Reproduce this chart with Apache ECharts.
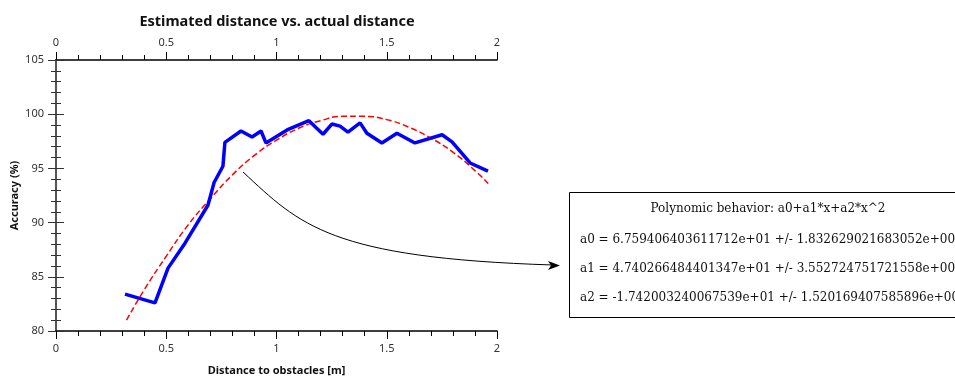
<!DOCTYPE html>
<html>
<head>
<meta charset="utf-8">
<script src="https://cdn.jsdelivr.net/npm/echarts@6/dist/echarts.min.js"></script>
<style>
  html, body { margin: 0; padding: 0; background: #fff; }
  #chart { width: 955px; height: 377px; }
</style>
</head>
<body>
<div id="chart"></div>
<script>
// measured accuracy vs distance (blue line)
const distance = [0.313, 0.449, 0.508, 0.585, 0.689, 0.717, 0.757, 0.766, 0.839, 0.889, 0.930, 0.952,
  1.048, 1.147, 1.211, 1.252, 1.288, 1.324, 1.379, 1.410, 1.478, 1.546, 1.628, 1.751, 1.796, 1.878, 1.959]
const accuracy = [83.4, 82.6, 85.8, 88.1, 91.6, 93.7, 95.2, 97.4, 98.45, 97.9, 98.45, 97.35,
  98.55, 99.4, 98.15, 99.1, 98.9, 98.35, 99.2, 98.25, 97.35, 98.25, 97.35, 98.1, 97.45, 95.5, 94.75]

// fitted curve (red dashed)
const fitX = [0.32, 0.4, 0.5, 0.6, 0.7, 0.8, 0.9, 1.0, 1.1, 1.2, 1.3, 1.4, 1.5, 1.6, 1.7, 1.8, 1.9, 1.96]
const fitY = [81.0, 83.8, 86.9, 89.8, 92.2, 94.4, 96.2, 97.6, 98.7, 99.4, 99.8, 99.8, 99.5, 98.8, 97.8, 96.5, 94.8, 93.6]

const boxLines = [
  'Polynomic behavior: a0+a1*x+a2*x^2',
  'a0 = 6.759406403611712e+01 +/- 1.832629021683052e+00',
  'a1 = 4.740266484401347e+01 +/- 3.552724751721558e+00',
  'a2 = -1.742003240067539e+01 +/- 1.520169407585896e+00'
]

const chart = echarts.init(document.getElementById('chart'))

const tickLabel = { color: '#333', fontSize: 11, fontFamily: 'Noto Sans' }
const nameStyle = { fontSize: 11, fontWeight: 'bold', color: '#111', fontFamily: 'Noto Sans' }

const xAxisBase = {
  type: 'value',
  min: 0,
  max: 2,
  interval: 0.5,
  axisLine: { show: true, lineStyle: { color: '#000', width: 1.5 } },
  axisTick: { show: true, inside: false, length: 8, lineStyle: { color: '#000' } },
  minorTick: { show: true, splitNumber: 5, length: 5, lineStyle: { color: '#000' } },
  splitLine: { show: false },
  axisLabel: { ...tickLabel, margin: 12 }
}

const yAxisBase = {
  type: 'value',
  min: 80,
  max: 105,
  interval: 5,
  axisLine: { show: true, lineStyle: { color: '#555', width: 2 } },
  axisTick: { show: true, length: 8, lineStyle: { color: '#333' } },
  minorTick: { show: true, splitNumber: 5, length: 5, lineStyle: { color: '#333' } },
  splitLine: { show: false }
}

const option = {
  backgroundColor: '#fff',
  animation: false,
  title: {
    text: 'Estimated distance vs. actual distance',
    left: 272,
    textAlign: 'center',
    top: 9,
    textStyle: { fontSize: 14.5, fontWeight: 'bold', color: '#111', fontFamily: 'Noto Sans' }
  },
  grid: { left: 56, right: 458, top: 60, bottom: 46, outerBoundsMode: 'none', containLabel: false },
  xAxis: [
    {
      ...xAxisBase,
      position: 'bottom',
      name: 'Distance to obstacles [m]',
      nameLocation: 'middle',
      nameGap: 34,
      nameTextStyle: nameStyle
    },
    { ...xAxisBase, position: 'top' }
  ],
  yAxis: [
    {
      ...yAxisBase,
      position: 'left',
      axisLabel: { ...tickLabel, margin: 12 },
      name: 'Accuracy (%)',
      nameLocation: 'middle',
      nameGap: 36,
      nameTextStyle: nameStyle
    },
    { ...yAxisBase, position: 'right', axisLabel: { show: false } }
  ],
  series: [
    {
      name: 'fit',
      type: 'line',
      data: fitX.map((x, i) => [x, fitY[i]]),
      smooth: true,
      showSymbol: false,
      lineStyle: { color: '#ff0000', width: 1.5, type: [6, 3] },
      z: 3
    },
    {
      name: 'measured',
      type: 'line',
      data: distance.map((x, i) => [x, accuracy[i]]),
      showSymbol: false,
      lineStyle: { color: '#0000ff', width: 3.5 },
      z: 4
    }
  ],
  graphic: [
    {
      type: 'bezierCurve',
      shape: { x1: 243, y1: 172, cpx1: 300, cpy1: 225, cpx2: 330, cpy2: 258, x2: 553, y2: 265 },
      style: { stroke: '#000', lineWidth: 1, fill: null },
      z: 10
    },
    {
      type: 'polygon',
      shape: { points: [[560, 265.5], [548, 261], [551, 265.5], [548, 270]] },
      style: { fill: '#000' },
      z: 10
    },
    {
      type: 'rect',
      shape: { x: 569.5, y: 192.5, width: 420, height: 125 },
      style: { fill: '#fff', stroke: '#000', lineWidth: 1 },
      z: 10
    },
    {
      type: 'text',
      x: 768,
      y: 209,
      style: {
        text: boxLines[0], textAlign: 'center', textVerticalAlign: 'middle',
        fontFamily: 'DejaVu Serif', fontSize: 12, fill: '#111'
      },
      z: 11
    },
    ...boxLines.slice(1).map((t, i) => ({
      type: 'text',
      x: 580,
      y: 240 + i * 29,
      style: {
        text: t, textAlign: 'left', textVerticalAlign: 'middle',
        fontFamily: 'DejaVu Serif', fontSize: 12, fill: '#111'
      },
      z: 11
    }))
  ]
}

chart.setOption(option)
</script>
</body>
</html>
